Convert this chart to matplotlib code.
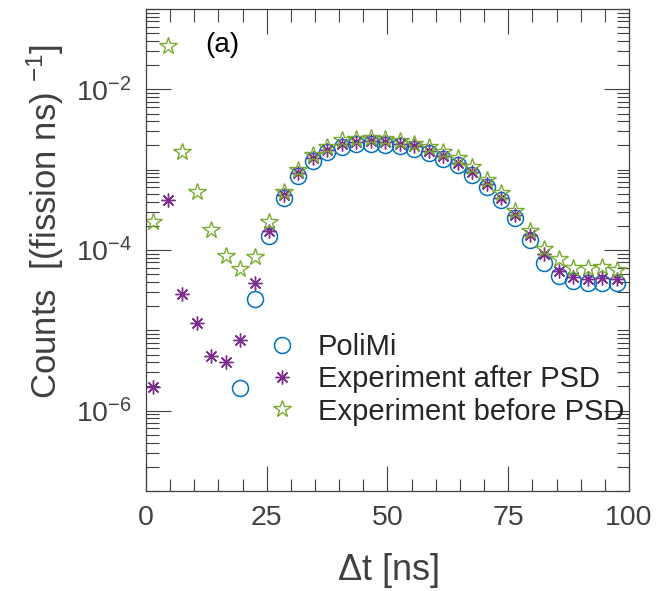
import matplotlib.pyplot as plt
import numpy as np
from matplotlib.ticker import FixedLocator, LogLocator, MultipleLocator, NullFormatter, LogFormatterMathtext

plt.rcParams['font.family'] = ['Liberation Sans', 'DejaVu Sans']
plt.rcParams['mathtext.fontset'] = 'custom'
plt.rcParams['mathtext.rm'] = 'Liberation Sans'
plt.rcParams['mathtext.it'] = 'Liberation Sans:italic'

# time bin centres [ns]
dt = np.arange(1.5, 99, 3.0)

# PoliMi simulation (no counts in first bins)
polimi = [np.nan, np.nan, np.nan, np.nan, np.nan, np.nan, 1.9e-6, 2.46e-5,
          1.48e-4, 4.4e-4, 8.4e-4, 1.28e-3, 1.66e-3, 1.92e-3, 2.07e-3, 2.07e-3,
          2.0e-3, 1.95e-3, 1.82e-3, 1.6e-3, 1.37e-3, 1.13e-3, 8.7e-4, 6.1e-4,
          4.2e-4, 2.5e-4, 1.33e-4, 6.8e-5, 4.7e-5, 4.1e-5, 3.9e-5, 3.9e-5, 3.9e-5]
# experiment after pulse shape discrimination
after_psd = [1.97e-6, 4.2e-4, 2.8e-5, 1.25e-5, 4.8e-6, 4.0e-6, 7.5e-6, 3.9e-5,
             1.7e-4, 4.8e-4, 9.1e-4, 1.38e-3, 1.75e-3, 2.11e-3, 2.22e-3, 2.29e-3,
             2.18e-3, 2.11e-3, 1.96e-3, 1.71e-3, 1.47e-3, 1.21e-3, 9.4e-4, 6.6e-4,
             4.5e-4, 2.7e-4, 1.55e-4, 8.9e-5, 5.4e-5, 4.6e-5, 4.3e-5, 4.5e-5, 4.3e-5]
# experiment before pulse shape discrimination
before_psd = [2.2e-4, 3.5e-2, 1.67e-3, 5.2e-4, 1.78e-4, 8.5e-5, 5.8e-5, 8.1e-5,
              2.2e-4, 5.3e-4, 9.9e-4, 1.51e-3, 1.92e-3, 2.32e-3, 2.44e-3, 2.51e-3,
              2.39e-3, 2.28e-3, 2.11e-3, 1.89e-3, 1.66e-3, 1.38e-3, 1.08e-3, 7.4e-4,
              5.1e-4, 3.1e-4, 1.7e-4, 1.02e-4, 7.7e-5, 5.9e-5, 5.9e-5, 6.1e-5, 5.6e-5]

labels = ['PoliMi', 'Experiment after PSD', 'Experiment before PSD']
yticks = [1e-6, 1e-4, 1e-2]

txt = '#404040'

fig = plt.figure(figsize=(6.59, 5.91), dpi=100)
ax = fig.add_axes([0.2215, 0.1692, 0.733, 0.8156])

ax.plot(dt, polimi, 'o', ms=11.5, mfc='none', mec='#0072BD', mew=1.1, label=labels[0])
ax.plot(dt, after_psd, ls='none', marker=(8, 2, 0), ms=10, mec='#7E2F8E', mew=1.0,
        label=labels[1])
ax.plot(dt, before_psd, '*', ms=13, mfc='none', mec='#77AC30', mew=1.0, label=labels[2])

ax.set_yscale('log')
ax.set_xlim(0, 100)
ax.set_ylim(1e-7, 1e-1)

ax.xaxis.set_major_locator(MultipleLocator(25))
ax.xaxis.set_minor_locator(MultipleLocator(5))
ax.yaxis.set_major_locator(FixedLocator(yticks))
ax.yaxis.set_major_formatter(LogFormatterMathtext(base=10))
ax.yaxis.set_minor_locator(LogLocator(base=10, subs=np.arange(1, 10), numticks=20))
ax.yaxis.set_minor_formatter(NullFormatter())

ax.tick_params(which='both', direction='in', top=True, right=True, colors=txt,
               labelsize=20.5, width=0.8)
ax.tick_params(which='major', length=18, pad=10)
ax.tick_params(which='minor', length=9)
for s in ax.spines.values():
    s.set_color(txt)
    s.set_linewidth(0.9)

ax.set_xlabel(r'$\Delta$t [ns]', fontsize=26, color=txt, va='top')
ax.xaxis.set_label_coords(0.5, -0.124)
ax.set_ylabel(r'Counts  [(fission ns) $^{-1}$]', fontsize=25, color=txt)
ax.yaxis.set_label_coords(-0.166, 0.56)

ax.text(0.122, 0.925, '(a)', transform=ax.transAxes, fontsize=20, color='black',
        va='center', ha='left')

leg = ax.legend(loc='upper left', bbox_to_anchor=(0.2536, 0.328), frameon=False,
                fontsize=21, handlelength=0.95, handletextpad=0.75, labelspacing=0.15,
                borderpad=0, borderaxespad=0)
for t in leg.get_texts():
    t.set_color('#262626')

fig.savefig('out.png', dpi=100)
